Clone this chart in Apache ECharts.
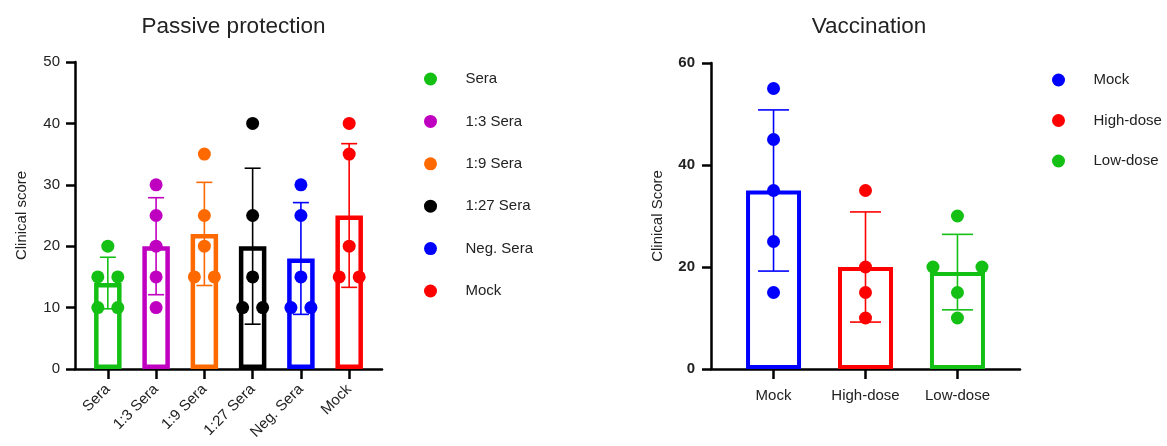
<!DOCTYPE html>
<html><head><meta charset="utf-8">
<script src="https://cdn.jsdelivr.net/npm/echarts@6/dist/echarts.min.js"></script>
<style>html,body{margin:0;padding:0;background:#fff}#c{width:1167px;height:446px}</style>
</head><body><div id="c"></div>
<script>
// ---- Left chart: Passive protection ----
const leftCategories = ['Sera', '1:3 Sera', '1:9 Sera', '1:27 Sera', 'Neg. Sera', 'Mock'];
const leftColors = ['#14C014', '#C000C0', '#FF6A00', '#000000', '#0000FF', '#FF0000'];
const leftPoints = [
  [20, 15, 15, 10, 10],
  [30, 25, 20, 15, 10],
  [35, 25, 20, 15, 15],
  [40, 25, 15, 10, 10],
  [30, 25, 15, 10, 10],
  [40, 35, 20, 15, 15]
];
const leftMeans = [14, 20, 22, 20, 18, 25];
const leftSD = [4.2, 7.9, 8.4, 12.7, 9.1, 11.7];
const leftTicks = [0, 10, 20, 30, 40, 50];

// ---- Right chart: Vaccination ----
const rightCategories = ['Mock', 'High-dose', 'Low-dose'];
const rightColors = ['#0000FF', '#FF0000', '#14C014'];
const rightPoints = [
  [55, 45, 35, 25, 15],
  [35, 20, 15, 10],
  [30, 20, 20, 15, 10]
];
const rightMeans = [35, 20, 19];
const rightSD = [15.8, 10.8, 7.4];
const rightTicks = [0, 20, 40, 60];

const FONT = 'Liberation Sans, Arial, sans-serif';
const TXT = '#222';

function pointSeries(gi, cats, colors, points, axisIdx, spread, suffix) {
  const vals = points[gi];
  const data = vals.map((v, k) => {
    const same = vals.filter(u => u === v).length;
    const rank = vals.slice(0, k).filter(u => u === v).length;
    return [gi, v, rank - (same - 1) / 2];
  });
  return {
    type: 'custom', name: cats[gi] + suffix, xAxisIndex: axisIdx, yAxisIndex: axisIdx,
    itemStyle: { color: colors[gi] }, z: 6, clip: false, silent: true,
    data: data,
    renderItem: function (params, api) {
      const p = api.coord([api.value(0), api.value(1)]);
      return { type: 'circle', shape: { cx: p[0] + api.value(2) * spread, cy: p[1], r: 6.5 },
               style: { fill: colors[gi] } };
    }
  };
}

function errorSeries(means, sd, colors, axisIdx, cap, lw) {
  return {
    type: 'custom', xAxisIndex: axisIdx, yAxisIndex: axisIdx, z: 5, silent: true, clip: false,
    data: means.map((m, i) => [i, m, sd[i]]),
    renderItem: function (params, api) {
      const i = api.value(0), m = api.value(1), s = api.value(2);
      const t = api.coord([i, m + s]), b = api.coord([i, m - s]);
      const st = { stroke: colors[i], lineWidth: lw, fill: null };
      return { type: 'group', children: [
        { type: 'line', shape: { x1: t[0], y1: t[1], x2: b[0], y2: b[1] }, style: st },
        { type: 'line', shape: { x1: t[0] - cap / 2, y1: t[1], x2: t[0] + cap / 2, y2: t[1] }, style: st },
        { type: 'line', shape: { x1: b[0] - cap / 2, y1: b[1], x2: b[0] + cap / 2, y2: b[1] }, style: st }
      ] };
    }
  };
}

function barSeries(means, colors, axisIdx, w, bw) {
  return {
    type: 'bar', xAxisIndex: axisIdx, yAxisIndex: axisIdx, barWidth: w, z: 3, silent: true,
    data: means.map((m, i) => ({ value: [i, m],
      itemStyle: { color: 'rgba(255,255,255,0)', borderColor: colors[i], borderWidth: bw } }))
  };
}

function xAxis(grid, cats, rotate, margin) {
  const idx = cats.map((_, i) => i);
  return {
    type: 'value', gridIndex: grid, min: -0.68, max: cats.length - 1 + 0.68,
    splitLine: { show: false },
    axisLine: { show: true, onZero: false, lineStyle: { color: '#000', width: 2.5 } },
    axisTick: { show: true, customValues: idx, length: 10, lineStyle: { color: '#000', width: 2.5 } },
    axisLabel: { customValues: idx, formatter: v => cats[Math.round(v)], rotate: rotate, margin: margin,
                 fontSize: 15, color: TXT, fontFamily: FONT }
  };
}

function yAxis(grid, ticks, name, bold, margin) {
  return {
    type: 'value', gridIndex: grid, min: ticks[0], max: ticks[ticks.length - 1],
    interval: ticks[1] - ticks[0],
    splitLine: { show: false },
    axisLine: { show: true, onZero: false, lineStyle: { color: '#000', width: 2.5 } },
    axisTick: { show: true, length: 9, lineStyle: { color: '#000', width: 2.5 } },
    axisLabel: { fontSize: 15, color: TXT, margin: margin, fontWeight: bold ? 'bold' : 'normal', fontFamily: FONT },
    name: name, nameLocation: 'middle', nameGap: 46,
    nameTextStyle: { fontSize: 15, color: TXT, fontFamily: FONT }
  };
}

const series = [
  barSeries(leftMeans, leftColors, 0, 27.5, 4.5),
  errorSeries(leftMeans, leftSD, leftColors, 0, 16, 1.6),
  barSeries(rightMeans, rightColors, 1, 55, 4),
  errorSeries(rightMeans, rightSD, rightColors, 1, 31, 1.6)
];
leftCategories.forEach((c, i) => series.push(pointSeries(i, leftCategories, leftColors, leftPoints, 0, 20, '')));
rightCategories.forEach((c, i) => series.push(pointSeries(i, rightCategories, rightColors, rightPoints, 1, 49, ' ')));

const option = {
  animation: false,
  textStyle: { fontFamily: FONT },
  title: [
    { text: 'Passive protection', left: 228.5, top: 10, textAlign: 'center',
      textStyle: { fontSize: 22.5, fontWeight: 'normal', color: TXT, fontFamily: FONT } },
    { text: 'Vaccination', left: 864, top: 10, textAlign: 'center',
      textStyle: { fontSize: 22.5, fontWeight: 'normal', color: TXT, fontFamily: FONT } }
  ],
  legend: [
    { orient: 'vertical', left: 419, top: 66.5, itemWidth: 60, itemHeight: 13, itemGap: 27.4,
      icon: 'circle', selectedMode: false, data: leftCategories,
      textStyle: { fontSize: 15, color: TXT, fontFamily: FONT } },
    { orient: 'vertical', left: 1047, top: 67.5, itemWidth: 60, itemHeight: 13, itemGap: 25.5,
      icon: 'circle', selectedMode: false, data: rightCategories.map(c => c + ' '),
      formatter: n => n.trim(),
      textStyle: { fontSize: 15, color: TXT, fontFamily: FONT } }
  ],
  grid: [
    { left: 75, top: 62, width: 307, height: 307 },
    { left: 711, top: 63, width: 309, height: 306 }
  ],
  xAxis: [xAxis(0, leftCategories, 45, 18), xAxis(1, rightCategories, 0, 19)],
  yAxis: [yAxis(0, leftTicks, 'Clinical score', false, 15), yAxis(1, rightTicks, 'Clinical Score', true, 16)],
  series: series
};

const chart = echarts.init(document.getElementById('c'), null, { renderer: 'canvas' });
chart.setOption(option);
</script>
</body></html>
